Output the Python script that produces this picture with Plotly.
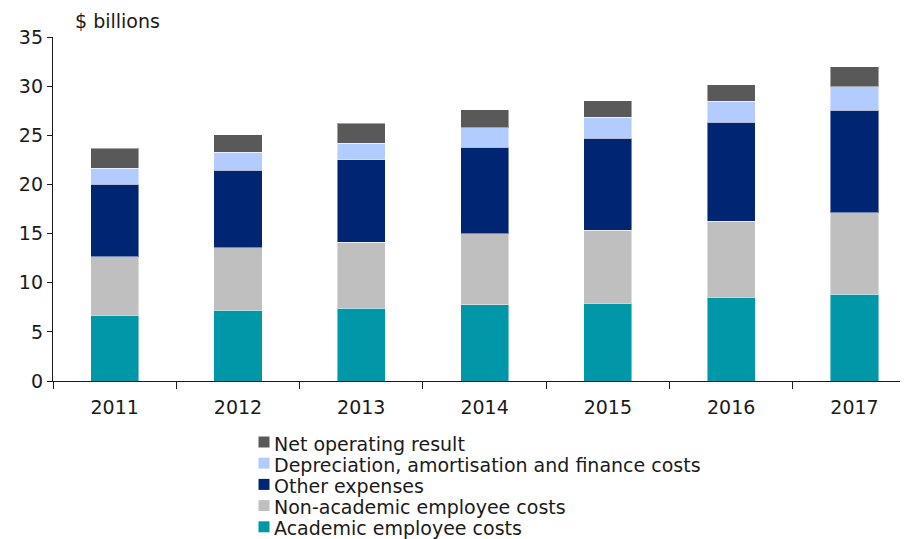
import plotly.graph_objects as go

years = ["2011", "2012", "2013", "2014", "2015", "2016", "2017"]
academic = [6.68, 7.19, 7.39, 7.77, 7.90, 8.50, 8.81]
non_academic = [5.98, 6.38, 6.71, 7.21, 7.42, 7.73, 8.33]
other_expenses = [7.36, 7.89, 8.40, 8.81, 9.38, 10.09, 10.43]
depreciation = [1.65, 1.83, 1.67, 2.00, 2.16, 2.16, 2.37]
net_result = [2.00, 1.79, 2.03, 1.81, 1.66, 1.66, 2.02]

series_names = [
    "Academic employee costs",
    "Non-academic employee costs",
    "Other expenses",
    "Depreciation, amortisation and finance costs",
    "Net operating result",
]
series_values = [academic, non_academic, other_expenses, depreciation, net_result]
series_colors = ["#0098A8", "#BFBFBF", "#002673", "#B3CCFF", "#595959"]

FONT = "DejaVu Sans"
FS = 19
OFF = 8  # page body margin
W, H = 908 - OFF, 539 - OFF
ML, MR, MT, MB = 53 - OFF, 0, 37 - OFF, 539 - 381
PW, PH = W - ML - MR, H - MT - MB

fig = go.Figure()
for name, vals, col in zip(series_names, series_values, series_colors):
    fig.add_trace(go.Bar(
        x=years, y=vals, name=name,
        marker=dict(color=col, line=dict(color="rgba(255,255,255,0.45)", width=1)),
        showlegend=False,
    ))

def px_x(px):
    return (px - OFF - ML) / PW

def px_y(py):
    return (H - MB - (py - OFF)) / PH

shapes = []
annotations = []
# manual legend, top to bottom in reversed stacking order
for i, (name, col) in enumerate(zip(series_names[::-1], series_colors[::-1])):
    cy = 442 + i * 21.2
    shapes.append(dict(
        type="rect", xref="paper", yref="paper",
        x0=px_x(258.5), x1=px_x(269.5), y0=px_y(cy + 5.5), y1=px_y(cy - 5.5),
        fillcolor=col, line=dict(width=0),
    ))
    annotations.append(dict(
        text=name, xref="paper", yref="paper",
        x=px_x(272), y=px_y(cy + 1.5), xanchor="left", yanchor="middle",
        showarrow=False, font=dict(family=FONT, size=FS, color="#1a1a1a"),
    ))

annotations.append(dict(
    text="$ billions", xref="paper", yref="paper",
    x=px_x(73), y=px_y(21), xanchor="left", yanchor="middle",
    showarrow=False, font=dict(family=FONT, size=FS, color="#1a1a1a"),
))

fig.update_layout(
    width=W, height=H,
    margin=dict(l=ML, r=MR, t=MT, b=MB, pad=0),
    barmode="stack", bargap=0.61,
    plot_bgcolor="white", paper_bgcolor="white",
    font=dict(family=FONT, size=FS, color="#1a1a1a"),
    shapes=shapes, annotations=annotations,
    xaxis=dict(
        type="category", range=[-0.5, 6.434],
        showline=True, linecolor="#1a1a1a", linewidth=1.3,
        ticks="outside", tickson="boundaries", ticklen=7, tickcolor="#1a1a1a", tickwidth=1.3,
        ticklabelstandoff=9,
        showgrid=False, zeroline=False,
    ),
    yaxis=dict(
        range=[0, 35], tickvals=[0, 5, 10, 15, 20, 25, 30, 35],
        showline=True, linecolor="#1a1a1a", linewidth=1.3,
        ticks="outside", ticklen=5, tickcolor="#1a1a1a", tickwidth=1.3,
        showgrid=False, zeroline=False,
    ),
)

fig.write_html("out.html")
